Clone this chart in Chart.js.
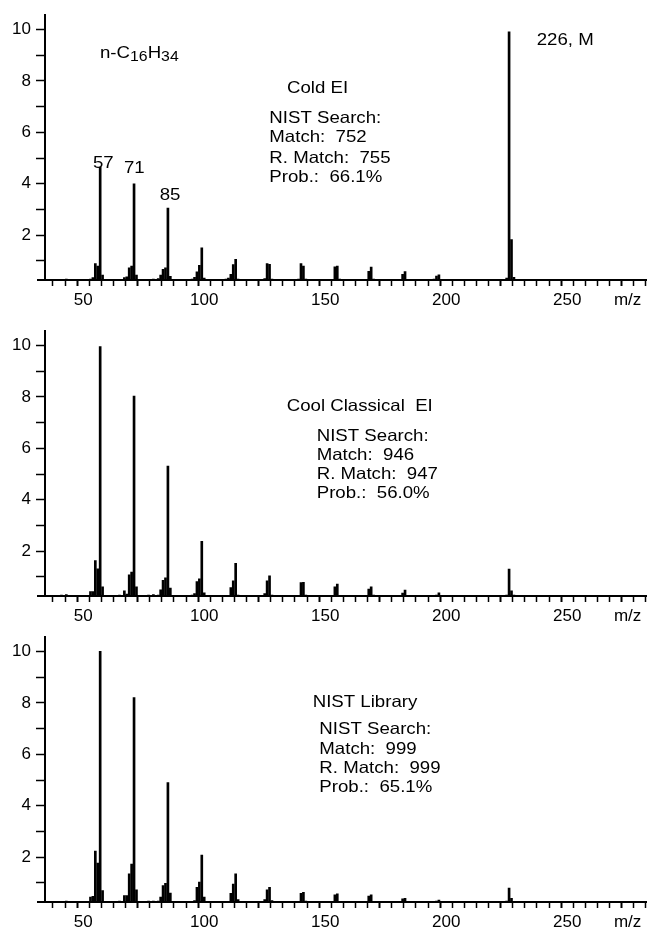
<!DOCTYPE html>
<html>
<head>
<meta charset="utf-8">
<script src="https://cdn.jsdelivr.net/npm/chart.js@4.4.1/dist/chart.umd.min.js"></script>
<style>
  body { margin: 0; background: #fff; }
  .panel { position: absolute; left: 0; width: 647px; height: 311px; }
</style>
</head>
<body>
<div class="panel" style="top:0px"><canvas id="cold" width="647" height="311"></canvas></div>
<div class="panel" style="top:316px"><canvas id="cool" width="647" height="311"></canvas></div>
<div class="panel" style="top:622px"><canvas id="nist" width="647" height="311"></canvas></div>
<script>
// m/z values of the peaks shown in the three spectra
const MZ = [41, 43, 53, 54, 55, 56, 57, 58, 65, 67, 68, 69, 70, 71, 72, 77, 79,
	81, 82, 83, 84, 85, 86, 95, 96, 97, 98, 99, 100, 109, 110, 111, 112, 113, 114,
	124, 125, 126, 127, 128, 139, 140, 141, 142, 153, 154, 155, 156, 167, 168, 169, 170,
	181, 182, 183, 184, 195, 196, 197, 198, 211, 225, 226, 227, 228]

// relative abundance, same order as MZ
const COLD_EI = [0.28, 0.3, 0.3, 0.35, 0.9, 0.8, 4.65, 0.45, 0.28, 0.35, 0.38, 0.73, 0.8, 4.0, 0.45, 0.28, 0.3,
	0.32, 0.45, 0.67, 0.73, 3.05, 0.4, 0.3, 0.36, 0.58, 0.83, 1.51, 0.33, 0.3, 0.33, 0.48, 0.86, 1.06, 0.3,
	0.28, 0.32, 0.9, 0.87, 0.3, 0.3, 0.9, 0.8, 0.3, 0.28, 0.77, 0.8, 0.3, 0.28, 0.6, 0.76, 0.3,
	0.28, 0.48, 0.59, 0.28, 0.3, 0.41, 0.46, 0.28, 0.28, 0.33, 9.9, 1.83, 0.36]

const COOL_EI = [0.3, 0.32, 0.43, 0.43, 1.64, 1.32, 9.95, 0.62, 0.3, 0.46, 0.33, 1.08, 1.19, 8.03, 0.62, 0.3, 0.32,
	0.3, 0.5, 0.87, 0.97, 5.31, 0.57, 0.3, 0.35, 0.82, 0.93, 2.38, 0.38, 0.28, 0.28, 0.59, 0.85, 1.53, 0.3,
	0.28, 0.35, 0.85, 1.04, 0.3, 0.28, 0.78, 0.79, 0.3, 0.28, 0.62, 0.72, 0.28, 0.28, 0.53, 0.62, 0.3,
	0.28, 0.37, 0.49, 0.28, 0.28, 0.3, 0.38, 0.28, 0.26, 0.3, 1.31, 0.46, 0.3]

const NIST_LIB = [0.28, 0.3, 0.45, 0.48, 2.24, 1.77, 10.0, 0.7, 0.3, 0.51, 0.51, 1.35, 1.73, 8.2, 0.73, 0.3, 0.3,
	0.3, 0.45, 0.9, 0.99, 4.9, 0.61, 0.28, 0.32, 0.83, 1.03, 2.08, 0.45, 0.28, 0.28, 0.6, 0.96, 1.35, 0.35,
	0.28, 0.35, 0.73, 0.83, 0.32, 0.28, 0.6, 0.64, 0.3, 0.28, 0.54, 0.58, 0.28, 0.28, 0.49, 0.54, 0.28,
	0.28, 0.38, 0.4, 0.28, 0.28, 0.3, 0.33, 0.28, 0.26, 0.3, 0.8, 0.4, 0.28]

const X_LABELS = [50, 100, 150, 200, 250]
const Y_LABELS = [2, 4, 6, 8, 10]

const FONT = '"Liberation Sans", Arial, Helvetica, sans-serif'
const STRETCH = 1.13

// draws one text run, returns its width
function drawText(ctx, str, x, y, size, align) {
	ctx.save()
	ctx.font = size + 'px ' + FONT
	ctx.fillStyle = '#000'
	ctx.textBaseline = 'alphabetic'
	let w = ctx.measureText(str).width * STRETCH
	let left = align === 'center' ? x - w / 2 : x
	ctx.translate(left, y)
	ctx.scale(STRETCH, 1)
	ctx.fillText(str, 0, 0)
	ctx.restore()
	return w
}

const notes = {
	id: 'notes',
	afterDraw(chart, args, opts) {
		const ctx = chart.ctx
		const area = chart.chartArea
		// x axis line runs a little past the y axis
		ctx.save()
		ctx.strokeStyle = '#000'
		ctx.lineWidth = 2
		ctx.beginPath()
		ctx.moveTo(area.left - 8, area.bottom)
		ctx.lineTo(area.left, area.bottom)
		ctx.stroke()
		ctx.restore()
		opts.items.forEach(t => {
			if (t.runs) {
				// formula with subscripts, laid out one run after another
				let x = t.x
				t.runs.forEach(r => {
					x += drawText(ctx, r[0], x, t.y + (r[1] ? 3 : 0), r[1] ? 14 : 16.5)
				})
			} else {
				drawText(ctx, t.text, t.x, t.y, t.size || 16.5, t.align)
			}
		})
	}
}

function makeChart(id, values, items) {
	return new Chart(document.getElementById(id), {
		type: 'bar',
		data: {
			datasets: [{
				data: MZ.map((m, i) => ({ x: m, y: values[i] })),
				backgroundColor: '#000',
				borderWidth: 0,
				barThickness: 2,
			}]
		},
		options: {
			responsive: false,
			animation: false,
			layout: { padding: { top: 13, left: 0, right: 0, bottom: 0 } },
			plugins: {
				legend: { display: false },
				tooltip: { enabled: false },
				notes: { items: items },
			},
			scales: {
				x: {
					type: 'linear',
					min: 34.2,
					max: 283,
					offset: false,
					afterBuildTicks(scale) {
						let t = []
						for (let v = 35; v <= 280; v += 5) t.push({ value: v })
						scale.ticks = t
					},
					afterFit(scale) { scale.height = 31 },
					border: { display: true, color: '#000', width: 2 },
					grid: {
						drawOnChartArea: false,
						drawTicks: true,
						tickLength: 6,
						tickColor: '#000',
						tickWidth: ctx => (ctx.tick && ctx.tick.value % 25 === 0) ? 2 : 1.5,
					},
					ticks: {
						autoSkip: false,
						maxRotation: 0,
						padding: 4,
						color: '#000',
						font: { family: FONT, size: 17 },
						callback: v => X_LABELS.includes(v) ? String(v) : (v === 275 ? 'm/z' : ''),
					},
				},
				y: {
					min: 0.26,
					max: 10.55,
					afterBuildTicks(scale) {
						let t = []
						for (let v = 1; v <= 10; v++) t.push({ value: v })
						scale.ticks = t
					},
					afterFit(scale) { scale.width = 45 },
					border: { display: true, color: '#000', width: 2 },
					grid: {
						drawOnChartArea: false,
						drawTicks: true,
						tickLength: 9,
						tickColor: '#000',
						tickWidth: 1.5,
					},
					ticks: {
						autoSkip: false,
						padding: 5,
						color: '#000',
						font: { family: FONT, size: 17 },
						callback: v => Y_LABELS.includes(v) ? String(v) : '',
					},
				},
			},
		},
		plugins: [notes],
	})
}

makeChart('cold', COLD_EI, [
	{ runs: [['n-C', false], ['16', true], ['H', false], ['34', true]], x: 100, y: 58 },
	{ text: 'Cold EI', x: 287, y: 93 },
	{ text: 'NIST Search:', x: 269.3, y: 122.7 },
	{ text: 'Match:  752', x: 269.3, y: 142 },
	{ text: 'R. Match:  755', x: 269.3, y: 162.7 },
	{ text: 'Prob.:  66.1%', x: 269.3, y: 182 },
	{ text: '57', x: 103.3, y: 168, align: 'center' },
	{ text: '71', x: 134.3, y: 173.3, align: 'center' },
	{ text: '85', x: 170, y: 200, align: 'center' },
	{ text: '226, M', x: 536.7, y: 45 },
])

makeChart('cool', COOL_EI, [
	{ text: 'Cool Classical  EI', x: 286.7, y: 94.7 },
	{ text: 'NIST Search:', x: 316.7, y: 124.7 },
	{ text: 'Match:  946', x: 316.7, y: 144 },
	{ text: 'R. Match:  947', x: 316.7, y: 163.3 },
	{ text: 'Prob.:  56.0%', x: 316.7, y: 182.3 },
])

makeChart('nist', NIST_LIB, [
	{ text: 'NIST Library', x: 312.7, y: 85.3 },
	{ text: 'NIST Search:', x: 319.3, y: 112 },
	{ text: 'Match:  999', x: 319.3, y: 132 },
	{ text: 'R. Match:  999', x: 319.3, y: 150.7 },
	{ text: 'Prob.:  65.1%', x: 319.3, y: 169.7 },
])
</script>
</body>
</html>
